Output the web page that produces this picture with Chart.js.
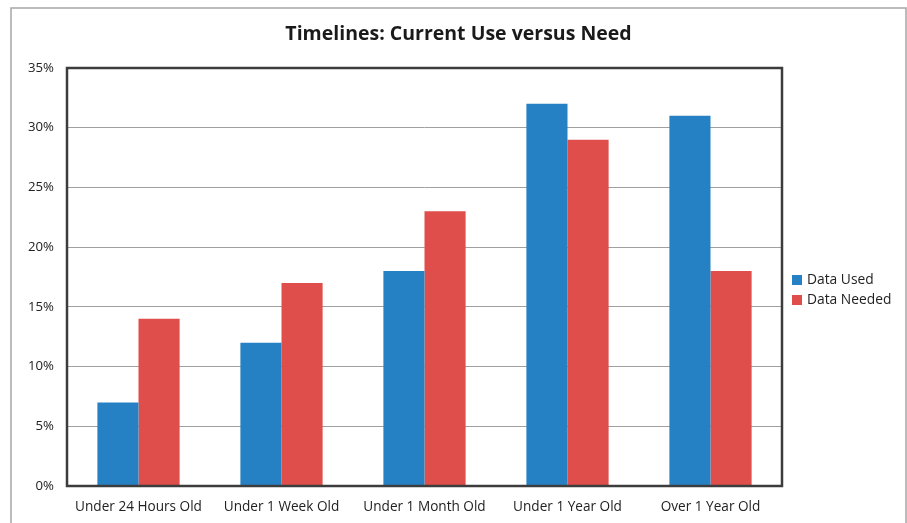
<!DOCTYPE html>
<html>
<head>
<meta charset="utf-8">
<script src="https://cdn.jsdelivr.net/npm/chart.js@4/dist/chart.umd.min.js"></script>
<style>
  html, body { margin: 0; padding: 0; background: #fff; }
  #wrap { width: 907px; height: 523px; position: relative; }
</style>
</head>
<body>
<div id="wrap"><canvas id="c" width="907" height="523"></canvas></div>
<script>
const categories = ["Under 24 Hours Old", "Under 1 Week Old", "Under 1 Month Old", "Under 1 Year Old", "Over 1 Year Old"];
const dataUsed = [7, 12, 18, 32, 31];
const dataNeeded = [14, 17, 23, 29, 18];
const seriesNames = ["Data Used", "Data Needed"];
const titleText = "Timelines: Current Use versus Need";

const FONT = "'Open Sans', 'DejaVu Sans', sans-serif";

// Outer frame, title, plot frame and the side legend
const framePlugin = {
  id: 'frame',
  beforeDraw(chart) {
    const ctx = chart.ctx;
    ctx.save();
    ctx.fillStyle = '#fff';
    ctx.fillRect(0, 0, chart.width, chart.height);
    ctx.strokeStyle = '#a6a6a6';
    ctx.lineWidth = 1.5;
    ctx.strokeRect(11, 8, 895, 530);
    ctx.restore();
  },
  afterDraw(chart) {
    const ctx = chart.ctx;
    const a = chart.chartArea;
    ctx.save();
    // title, centred in the outer frame
    ctx.font = "bold 19.5px " + FONT;
    ctx.fillStyle = '#1a1a1a';
    ctx.textAlign = 'center';
    ctx.textBaseline = 'middle';
    ctx.fillText(titleText, 458.5, 34);
    // plot frame
    ctx.strokeStyle = '#3c3c3c';
    ctx.lineWidth = 2.5;
    ctx.strokeRect(a.left, a.top, a.right - a.left, a.bottom - a.top);
    // legend
    const x0 = a.right + 10;
    const y0 = 280;
    ctx.font = "13.8px " + FONT;
    ctx.textAlign = 'left';
    chart.data.datasets.forEach((ds, i) => {
      const y = y0 + i * 20;
      ctx.fillStyle = ds.backgroundColor;
      ctx.fillRect(x0, y - 5, 10, 10);
      ctx.fillStyle = '#222';
      ctx.fillText(ds.label, x0 + 15, y);
    });
    ctx.restore();
  }
};

new Chart(document.getElementById('c'), {
  type: 'bar',
  data: {
    labels: categories,
    datasets: [
      { label: seriesNames[0], data: dataUsed, backgroundColor: '#2581c4', borderWidth: 0 },
      { label: seriesNames[1], data: dataNeeded, backgroundColor: '#df4e4b', borderWidth: 0 }
    ]
  },
  options: {
    responsive: false,
    animation: false,
    devicePixelRatio: 1,
    layout: { padding: { left: 0, right: 125, top: 68, bottom: 0 } },
    datasets: { bar: { categoryPercentage: 0.575, barPercentage: 1.0 } },
    plugins: {
      legend: { display: false },
      tooltip: { enabled: false },
      title: { display: false }
    },
    scales: {
      x: {
        grid: { display: false, drawTicks: false },
        border: { display: false },
        ticks: { color: '#222', font: { family: FONT, size: 13.6 }, padding: 13, maxRotation: 0 },
        afterFit(s) { s.height = 37; }
      },
      y: {
        min: 0, max: 35,
        grid: { color: '#a0a0a0', lineWidth: 1, drawTicks: false },
        border: { display: false },
        ticks: { stepSize: 5, color: '#222', font: { family: FONT, size: 13.2 }, padding: 13,
                 callback: v => v + '%' },
        afterFit(s) { s.width = 67; }
      }
    }
  },
  plugins: [framePlugin]
});
</script>
</body>
</html>
